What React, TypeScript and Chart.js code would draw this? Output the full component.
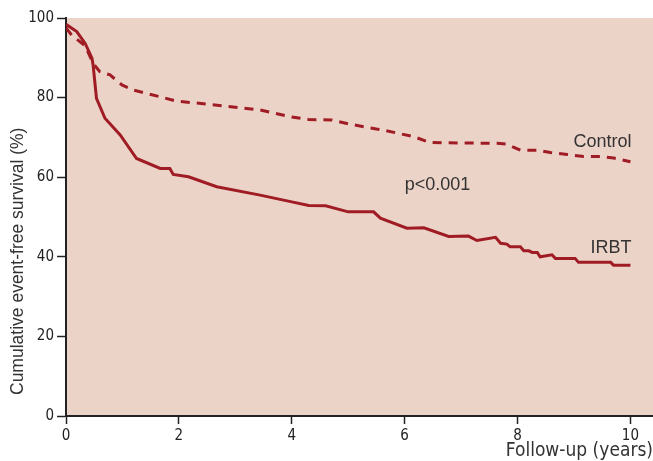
import React, { useEffect, useRef } from "react";
import { Chart, registerables } from "chart.js";

Chart.register(...registerables);

const irbtX = [0, 0.19, 0.34, 0.46, 0.48, 0.54, 0.69, 0.96, 1.25, 1.67, 1.84, 1.9, 2.17, 2.67, 3.44, 4.0, 4.3, 4.6, 5.0, 5.45, 5.57, 6.04, 6.34, 6.78, 7.13, 7.28, 7.61, 7.7, 7.81, 7.87, 8.05, 8.11, 8.2, 8.26, 8.35, 8.4, 8.61, 8.67, 9.02, 9.08, 9.65, 9.7, 10.0];
const irbtY = [98.4, 96.6, 93.6, 89.9, 88.2, 79.8, 74.8, 70.6, 64.7, 62.2, 62.2, 60.7, 60.1, 57.6, 55.5, 53.8, 52.9, 52.8, 51.3, 51.3, 49.7, 47.2, 47.3, 45.1, 45.2, 44.1, 44.9, 43.4, 43.2, 42.5, 42.5, 41.5, 41.5, 41.1, 41.1, 40.0, 40.5, 39.6, 39.6, 38.6, 38.6, 37.9, 37.9];

const controlX = [0, 0.1, 0.34, 0.48, 0.6, 0.78, 0.99, 1.19, 1.67, 1.96, 2.55, 3.0, 3.44, 4.0, 4.3, 4.7, 5.0, 5.5, 5.6, 6.16, 6.45, 7.64, 7.81, 8.05, 8.35, 8.58, 8.88, 9.17, 9.47, 9.7, 10.0];
const controlY = [97.5, 95.7, 93.0, 88.6, 86.5, 85.7, 83.2, 81.9, 80.2, 79.1, 78.3, 77.6, 76.9, 75.1, 74.5, 74.4, 73.4, 72.1, 71.9, 70.2, 68.7, 68.5, 68.3, 66.8, 66.8, 66.2, 65.7, 65.2, 65.2, 64.8, 63.9];

const xTicks = [0, 2, 4, 6, 8, 10];
const yTicks = [0, 20, 40, 60, 80, 100];

const labelTexts = ["Control", "IRBT", "p<0.001"];
const labelX = [10.02, 10.02, 6.0];
const labelY = [68.8, 42.3, 58.0];
const labelAlign: CanvasTextAlign[] = ["right", "right", "left"];

const yTitle = "Cumulative event-free survival (%)";
const xTitle = "Follow-up (years)";

const LINE = "#a01c24";
const BG = "#ecd3c8";
const AXIS = "#222222";
const TEXT = "#333333";
const NARROW = "'Liberation Sans Narrow', 'DejaVu Sans Condensed', sans-serif";
const SANS = "'Liberation Sans', Arial, sans-serif";

const bgPlugin = {
  id: "plotBg",
  beforeDraw(chart: any) {
    const { ctx, chartArea } = chart;
    ctx.save();
    ctx.fillStyle = BG;
    ctx.fillRect(chartArea.left, chartArea.top, chartArea.right - chartArea.left, chartArea.bottom - chartArea.top);
    ctx.restore();
  },
};

const textPlugin = {
  id: "texts",
  afterDraw(chart: any) {
    const { ctx, scales, chartArea } = chart;
    ctx.save();
    ctx.fillStyle = TEXT;
    ctx.font = `18px ${SANS}`;
    ctx.textBaseline = "middle";
    labelTexts.forEach((t, i) => {
      ctx.textAlign = labelAlign[i];
      ctx.fillText(t, scales.x.getPixelForValue(labelX[i]), scales.y.getPixelForValue(labelY[i]));
    });
    // y axis title
    ctx.translate(18, chartArea.bottom - 21);
    ctx.rotate(-Math.PI / 2);
    ctx.textAlign = "left";
    ctx.font = `17.5px ${SANS}`;
    ctx.fillText(yTitle, 0, 0);
    ctx.restore();
  },
};

export default function App() {
  const ref = useRef<HTMLCanvasElement | null>(null);
  useEffect(() => {
    if (!ref.current) return;
    const chart = new Chart(ref.current, {
      type: "line",
      data: {
        datasets: [
          {
            label: "Control",
            data: controlX.map((x, i) => ({ x, y: controlY[i] })),
            borderColor: LINE,
            borderWidth: 3,
            borderDash: [9, 7],
            pointRadius: 0,
            tension: 0,
            fill: false,
          },
          {
            label: "IRBT",
            data: irbtX.map((x, i) => ({ x, y: irbtY[i] })),
            borderColor: LINE,
            borderWidth: 3,
            pointRadius: 0,
            tension: 0,
            fill: false,
          },
        ],
      },
      options: {
        animation: false,
        responsive: false,
        layout: { padding: { top: 18, right: 0, bottom: 0, left: 0 } },
        plugins: { legend: { display: false }, tooltip: { enabled: false }, title: { display: false } },
        scales: {
          x: {
            type: "linear",
            min: 0,
            max: 10.4,
            afterFit: (s: any) => { s.height = 45; },
            afterBuildTicks: (s: any) => { s.ticks = xTicks.map((v) => ({ value: v })); },
            ticks: {
              includeBounds: false,
              stepSize: 2,
              color: AXIS,
              padding: 3,
              maxRotation: 0,
              font: { family: NARROW, size: 15 },
            },
            grid: { drawOnChartArea: false, color: AXIS, tickLength: 8, tickWidth: 1.5 },
            border: { color: AXIS, width: 2 },
            title: {
              display: true,
              text: xTitle,
              align: "end",
              color: TEXT,
              padding: 0,
              font: { family: NARROW, size: 19, lineHeight: 1.0 },
            },
          },
          y: {
            min: 0,
            max: 100,
            afterFit: (s: any) => { s.width = 66; },
            afterBuildTicks: (s: any) => { s.ticks = yTicks.map((v) => ({ value: v })); },
            ticks: {
              stepSize: 20,
              color: AXIS,
              padding: 3,
              font: { family: NARROW, size: 15 },
            },
            grid: { drawOnChartArea: false, color: AXIS, tickLength: 9, tickWidth: 1.5 },
            border: { color: AXIS, width: 2 },
          },
        },
      },
      plugins: [bgPlugin, textPlugin],
    } as any);
    return () => chart.destroy();
  }, []);
  return (
    <div style={{ position: "absolute", left: 0, top: 0, width: 653, height: 461, background: "#fff" }}>
      <canvas ref={ref} width={653} height={461} style={{ width: 653, height: 461 }} />
    </div>
  );
}
